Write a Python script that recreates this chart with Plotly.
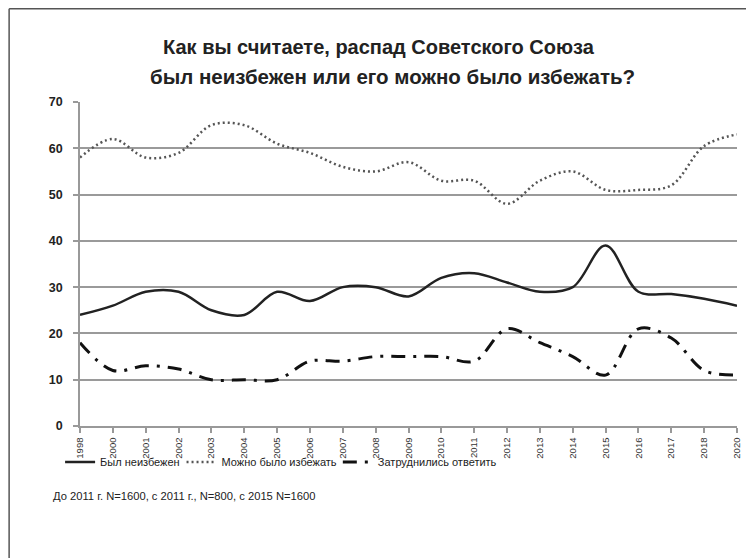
import plotly.graph_objects as go

years = ["1998", "2000", "2001", "2002", "2003", "2004", "2005", "2006", "2007", "2008",
         "2009", "2010", "2011", "2012", "2013", "2014", "2015", "2016", "2017", "2018", "2020"]
inevitable = [24, 26, 29, 29, 25, 24, 29, 27, 30, 30, 28, 32, 33, 31, 29, 30, 39, 29, 28.5, 27.5, 26]
avoidable = [58, 62, 58, 59, 65, 65, 61, 59, 56, 55, 57, 53, 53, 48, 53, 55, 51, 51, 52, 60.5, 63]
hard_to_say = [18, 12, 13, 12.3, 10, 10, 10, 14, 14, 15, 15, 15, 14, 21, 18, 15, 11, 21, 19, 12, 11]

names = ["Был неизбежен", "Можно было избежать", "Затруднились ответить"]
title_lines = ["Как вы считаете, распад Советского Союза",
               "был неизбежен или его можно было избежать?"]
footnote = "До 2011 г. N=1600, с 2011 г., N=800, с 2015 N=1600"

OFF = 8  # page body margin
W, H = 754 - OFF, 558 - OFF
L, T = 80 - OFF, 102 - OFF
R = W - (740 - OFF)
B = H - (426 - OFF)
pw, ph = W - L - R, H - T - B

def px(x):
    return (x - OFF - L) / pw

def py(y):
    return (H - B - (y - OFF)) / ph

arial = "Liberation Sans, Arial, sans-serif"

fig = go.Figure()
fig.add_trace(go.Scatter(x=years, y=inevitable, name=names[0], mode="lines", legend="legend",
                         line=dict(color="#222222", width=2.5, shape="spline", smoothing=1.0)))
fig.add_trace(go.Scatter(x=years, y=avoidable, name=names[1], mode="lines", legend="legend2",
                         line=dict(color="#555555", width=2.5, shape="spline", smoothing=1.0,
                                   dash="2px,3px")))
fig.add_trace(go.Scatter(x=years, y=hard_to_say, name=names[2], mode="lines", legend="legend3",
                         line=dict(color="#111111", width=3, shape="spline", smoothing=1.0,
                                   dash="14px,8px,3px,8px")))

leg_common = dict(orientation="h", yanchor="middle", xanchor="left",
                  font=dict(family=arial, size=11, color="#222222"),
                  itemwidth=30, bgcolor="rgba(0,0,0,0)", borderwidth=0)

fig.update_layout(
    width=W, height=H,
    margin=dict(l=L, r=R, t=T, b=B),
    paper_bgcolor="white", plot_bgcolor="white",
    showlegend=True,
    legend=dict(x=px(60), y=py(462), **leg_common),
    legend2=dict(x=px(182), y=py(462), **leg_common),
    legend3=dict(x=px(339), y=py(462), **leg_common),
    xaxis=dict(type="category", range=[0, len(years) - 1],
               showgrid=False, showline=True, linecolor="#999999", linewidth=1.5,
               ticks="outside", ticklen=5, tickcolor="#999999", tickwidth=1.5,
               tickangle=-90, tickfont=dict(family=arial, size=9.5, color="#333333"),
               ticklabelstandoff=1, zeroline=False),
    yaxis=dict(range=[0, 70], dtick=10, showgrid=True, gridcolor="#9a9a9a", gridwidth=1.5,
               showline=True, linecolor="#999999", linewidth=1.5,
               ticks="outside", ticklen=5, tickcolor="#999999", tickwidth=1.5,
               tickfont=dict(family=arial, size=12.5, color="#222222", weight="bold"),
               ticklabelstandoff=8, zeroline=False),
    annotations=[
        dict(text="<b>" + title_lines[0] + "</b>", x=px(380), y=py(47), xref="paper", yref="paper",
             xanchor="center", yanchor="middle", showarrow=False,
             font=dict(family=arial, size=20, color="#222222")),
        dict(text="<b>" + title_lines[1] + "</b>", x=px(394), y=py(76), xref="paper", yref="paper",
             xanchor="center", yanchor="middle", showarrow=False,
             font=dict(family=arial, size=20.5, color="#222222")),
        dict(text=footnote, x=px(51), y=py(496), xref="paper", yref="paper",
             xanchor="left", yanchor="middle", showarrow=False,
             font=dict(family=arial, size=11.2, color="#222222")),
    ],
    shapes=[
        dict(type="line", xref="paper", yref="paper", x0=px(8.8), x1=px(770), y0=py(8.8), y1=py(8.8),
             line=dict(color="#555555", width=1.5)),
        dict(type="line", xref="paper", yref="paper", x0=px(8.8), x1=px(8.8), y0=py(8.8), y1=py(575),
             line=dict(color="#555555", width=1.5)),
    ],
)

fig.write_html("out.html")
